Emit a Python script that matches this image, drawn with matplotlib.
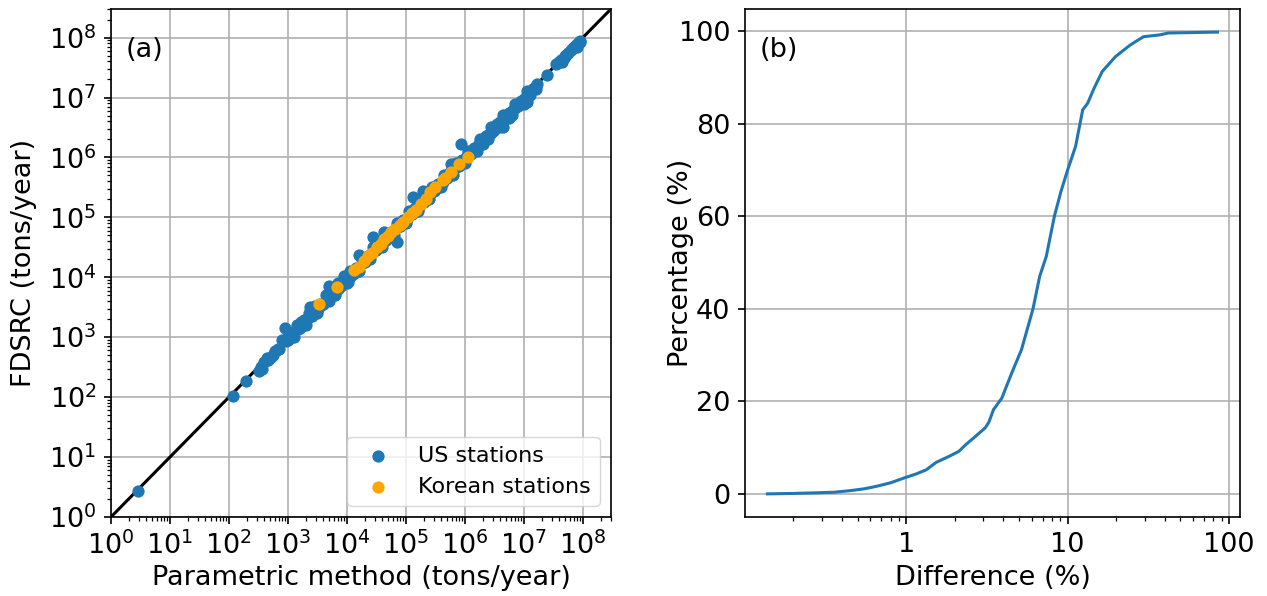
import numpy as np
import matplotlib
matplotlib.use("Agg")
import matplotlib.pyplot as plt
from matplotlib.ticker import LogLocator, FuncFormatter, NullFormatter

# ---- (a) annual sediment load: parametric method vs FDSRC (tons/year) ----
us_param = [
    2.9, 1.15e2, 1.95e2, 3.2e2, 3.6e2, 4.0e2, 4.6e2, 5.2e2, 6.0e2, 6.9e2,
    8.8e2, 9.1e2, 1.0e3, 1.1e3, 1.2e3, 1.3e3, 1.5e3, 1.65e3, 1.85e3, 2.1e3,
    2.37e3, 2.4e3, 2.6e3, 2.9e3, 3.2e3, 3.5e3, 4.0e3, 5.0e3, 5.0e3, 5.6e3,
    6.3e3, 7.1e3, 8.0e3, 8.5e3, 9.1e3, 1.05e4, 1.15e4, 1.3e4, 1.5e4, 1.62e4,
    1.8e4, 2.0e4, 2.3e4, 2.75e4, 2.6e4, 3.0e4, 3.5e4, 4.0e4, 4.3e4, 4.6e4,
    5.2e4, 6.0e4, 7.2e4, 6.9e4, 7.9e4, 9.1e4, 1.05e5, 1.2e5, 1.32e5, 1.41e5,
    1.66e5, 1.95e5, 1.9e5, 2.2e5, 2.6e5, 3.0e5, 3.5e5, 4.2e5, 4.8e5, 5.9e5,
    5.6e5, 6.6e5, 7.6e5, 8.7e5, 8.9e5, 1.0e6, 1.1e6, 1.2e6, 1.3e6, 1.45e6,
    1.6e6, 1.75e6, 1.9e6, 2.1e6, 2.3e6, 2.5e6, 2.75e6, 3.0e6, 3.3e6, 3.6e6,
    4.0e6, 4.4e6, 4.8e6, 4.8e6, 5.2e6, 5.8e6, 6.3e6, 7.1e6, 8.0e6, 8.9e6,
    1.0e7, 1.15e7, 1.12e7, 1.26e7, 1.41e7, 1.55e7, 1.66e7, 2.45e7, 3.55e7,
    3.9e7, 4.3e7, 4.8e7, 5.2e7, 6.3e7, 6.9e7, 7.6e7, 8.3e7, 9.0e7,
    2.0e6, 3.2e6, 5.5e6, 9.5e5, 2.8e4, 6.2e3,
    355, 447, 562, 708, 794, 1000, 1122, 1259, 1413, 1585,
    1778, 1995, 2239, 2512, 2818, 3162, 3548, 3981, 4467, 5012,
    5623, 6310, 7079, 7943, 8913, 1.0e4, 1.12e4, 1.26e4, 1.41e4, 1.58e4,
    1.78e4, 2.0e4, 2.24e4, 2.51e4, 2.82e4, 3.16e4, 3.55e4, 3.98e4, 4.47e4, 5.01e4,
    5.62e4, 6.31e4, 7.08e4, 7.94e4, 8.91e4, 1.0e5, 1.12e5, 1.26e5, 1.41e5, 1.58e5,
    1.78e5, 2.0e5, 2.24e5, 2.51e5, 2.82e5, 3.16e5, 3.55e5, 3.98e5, 4.47e5, 5.01e5,
    5.62e5, 6.31e5, 7.08e5, 7.94e5, 8.91e5, 1.0e6, 1.12e6, 1.26e6, 1.41e6, 1.58e6,
    1.78e6, 2.0e6, 2.24e6, 2.51e6, 2.82e6, 3.16e6, 3.55e6, 3.98e6, 4.47e6, 5.01e6,
    5.62e6, 6.31e6, 7.08e6, 7.94e6, 8.91e6, 1.0e7, 1.12e7, 1.26e7, 1.41e7, 1.58e7,
    3.98e7, 4.47e7, 5.01e7, 5.62e7, 7.08e7, 7.94e7, 8.91e7,
]
us_fdsrc = [
    2.7, 1.05e2, 1.85e2, 2.75e2, 2.9e2, 3.8e2, 4.2e2, 4.6e2, 5.8e2, 6.3e2,
    1.43e3, 8.7e2, 1.0e3, 9.6e2, 1.17e3, 1.26e3, 1.35e3, 1.78e3, 1.9e3, 2.0e3,
    3.2e3, 2.3e3, 2.4e3, 3.3e3, 3.0e3, 3.3e3, 3.6e3, 7.1e3, 4.6e3, 5.0e3,
    6.0e3, 6.3e3, 7.6e3, 8.3e3, 1.07e4, 8.3e3, 1.0e4, 1.2e4, 1.4e4, 2.34e4,
    1.7e4, 1.86e4, 2.2e4, 4.7e4, 2.4e4, 2.9e4, 3.2e4, 3.8e4, 5.7e4, 4.2e4,
    5.0e4, 5.5e4, 3.9e4, 6.6e4, 7.2e4, 8.7e4, 9.5e4, 1.12e5, 2.2e5, 1.32e5,
    1.5e5, 2.8e5, 1.8e5, 2.0e5, 2.5e5, 2.75e5, 3.3e5, 3.9e5, 4.6e5, 7.9e5,
    5.2e5, 6.3e5, 7.2e5, 1.65e6, 8.3e5, 9.5e5, 1.07e6, 1.12e6, 1.26e6, 1.38e6,
    1.48e6, 1.66e6, 1.86e6, 2.0e6, 2.2e6, 2.4e6, 2.6e6, 2.75e6, 3.2e6, 3.3e6,
    3.9e6, 3.2e6, 4.6e6, 4.4e6, 4.8e6, 5.5e6, 6.0e6, 6.8e6, 7.4e6, 8.3e6,
    9.3e6, 8.3e6, 1.1e7, 1.2e7, 1.38e7, 1.48e7, 1.66e7, 2.35e7, 3.6e7,
    3.9e7, 4.3e7, 4.6e7, 5.2e7, 6.3e7, 6.8e7, 7.4e7, 8.1e7, 8.3e7,
    1.7e6, 3.3e6, 4.6e6, 8.3e5, 2.6e4, 5.9e3,
    316, 447, 501, 631, 891, 891, 1122, 1000, 1585, 1413,
    1778, 1585, 2512, 2239, 2818, 2512, 3548, 3548, 5012, 3981,
    5623, 5012, 7943, 7079, 8913, 7943, 1.26e4, 1.12e4, 1.41e4, 1.26e4,
    2.0e4, 1.78e4, 2.24e4, 2.0e4, 3.16e4, 2.82e4, 3.55e4, 3.16e4, 5.01e4, 4.47e4,
    5.62e4, 5.01e4, 7.94e4, 7.08e4, 8.91e4, 7.94e4, 1.26e5, 1.12e5, 1.41e5, 1.26e5,
    2.0e5, 1.78e5, 2.24e5, 2.0e5, 3.16e5, 2.82e5, 3.55e5, 3.16e5, 5.01e5, 4.47e5,
    5.62e5, 5.01e5, 7.94e5, 7.08e5, 8.91e5, 7.94e5, 1.26e6, 1.12e6, 1.41e6, 1.26e6,
    2.0e6, 1.78e6, 2.24e6, 2.0e6, 3.16e6, 2.82e6, 3.55e6, 3.16e6, 5.01e6, 4.47e6,
    5.62e6, 5.01e6, 7.94e6, 7.08e6, 8.91e6, 7.94e6, 1.26e7, 1.12e7, 1.41e7, 1.41e7,
    3.98e7, 3.98e7, 5.01e7, 5.62e7, 7.08e7, 7.08e7, 8.91e7,
]

kr_param = [
    3.4e3, 6.8e3, 1.32e4, 1.58e4, 1.95e4, 2.3e4, 2.63e4, 3.3e4, 3.8e4, 4.3e4,
    5.0e4, 5.6e4, 6.6e4, 7.8e4, 8.9e4, 1.07e5, 1.26e5, 1.48e5, 1.78e5, 2.2e5,
    2.6e5, 3.1e5, 4.2e5, 4.6e5, 5.9e5, 8.1e5, 1.14e6,
]
kr_fdsrc = [
    3.6e3, 6.9e3, 1.32e4, 1.51e4, 1.9e4, 2.24e4, 2.5e4, 3.2e4, 3.6e4, 4.4e4,
    4.9e4, 5.7e4, 6.3e4, 7.4e4, 8.5e4, 1.01e5, 1.2e5, 1.32e5, 1.66e5, 2.0e5,
    2.6e5, 3.2e5, 4.2e5, 4.6e5, 5.7e5, 7.9e5, 1.01e6,
]

one_to_one = [1.0, 3.0e8]

# ---- (b) cumulative distribution of the relative difference ----
difference = [
    0.138, 0.2, 0.26, 0.355, 0.45, 0.55, 0.655, 0.8, 1.0, 1.15,
    1.33, 1.53, 1.84, 2.12, 2.33, 2.68, 3.09, 3.25, 3.47, 3.91,
    4.5, 5.18, 6.1, 6.71, 7.37, 8.29, 9.1, 10.0, 11.2, 12.4,
    13.3, 14.6, 16.4, 19.8, 24.4, 29.5, 37.3, 42.0, 60.0, 84.9,
]
percentage = [
    0.0, 0.1, 0.2, 0.35, 0.7, 1.1, 1.64, 2.4, 3.6, 4.3,
    5.2, 6.8, 8.1, 9.2, 10.6, 12.4, 14.3, 15.5, 18.2, 20.7,
    26.1, 31.2, 40.0, 47.0, 51.3, 60.1, 65.4, 70.0, 75.1, 83.0,
    84.4, 87.7, 91.3, 94.5, 97.0, 98.8, 99.2, 99.6, 99.7, 99.8,
]

plt.rcParams.update({
    "font.size": 19.5,
    "axes.linewidth": 1.2,
    "xtick.major.size": 5.25, "ytick.major.size": 5.25,
    "xtick.minor.size": 3.0, "ytick.minor.size": 3.0,
    "xtick.major.width": 1.2, "ytick.major.width": 1.2,
    "xtick.minor.width": 0.9, "ytick.minor.width": 0.9,
    "xtick.major.pad": 5.25, "ytick.major.pad": 5.25,
})
plt.rcParams["font.family"] = ["DejaVu Sans"]

fig = plt.figure(figsize=(12.67, 5.96), dpi=100)
ax1 = fig.add_axes([0.0876, 0.1326, 0.3946, 0.8523])
ax2 = fig.add_axes([0.588, 0.1326, 0.3907, 0.8523])

# panel (a)
ax1.plot(one_to_one, one_to_one, color="black", lw=2.2, zorder=2)
ax1.scatter(us_param, us_fdsrc, s=78, color="#1f77b4", label="US stations",
            zorder=3, linewidths=0)
ax1.scatter(kr_param, kr_fdsrc, s=78, color="orange", label="Korean stations",
            zorder=4, linewidths=0)
ax1.set_xscale("log")
ax1.set_yscale("log")
ax1.set_xlim(one_to_one)
ax1.set_ylim(one_to_one)
decades = [10.0 ** k for k in range(9)]
for axis in (ax1.xaxis, ax1.yaxis):
    axis.set_major_locator(LogLocator(base=10, numticks=20))
    axis.set_minor_locator(LogLocator(base=10, subs=np.arange(2, 10), numticks=100))
    axis.set_minor_formatter(NullFormatter())
ax1.set_xticks(decades)
ax1.set_yticks(decades)
ax1.grid(True, which="major", color="#b0b0b0", lw=1.2, zorder=0)
ax1.set_axisbelow(True)
ax1.set_xlabel("Parametric method (tons/year)")
ax1.set_ylabel("FDSRC (tons/year)")
ax1.xaxis.set_label_coords(0.5, -0.094)
ax1.yaxis.set_label_coords(-0.148, 0.5)
ax1.text(0.03, 0.92, "(a)", transform=ax1.transAxes, va="center", ha="left")
ax1.legend(loc="lower right", scatterpoints=1, fontsize=16)

# panel (b)
ax2.plot(difference, percentage, color="#1f77b4", lw=2.2)
ax2.set_xscale("log")
ax2.xaxis.set_major_formatter(FuncFormatter(lambda v, p: f"{v:g}"))
ax2.xaxis.set_minor_formatter(NullFormatter())
ax2.set_yticks([0, 20, 40, 60, 80, 100])
ax2.grid(True, which="major", color="#b0b0b0", lw=1.2)
ax2.set_axisbelow(True)
ax2.set_xlabel("Difference (%)")
ax2.set_ylabel("Percentage (%)")
ax2.xaxis.set_label_coords(0.5, -0.094)
ax2.yaxis.set_label_coords(-0.103, 0.5)
ax2.text(0.03, 0.92, "(b)", transform=ax2.transAxes, va="center", ha="left")

fig.savefig("out.png", dpi=100)
